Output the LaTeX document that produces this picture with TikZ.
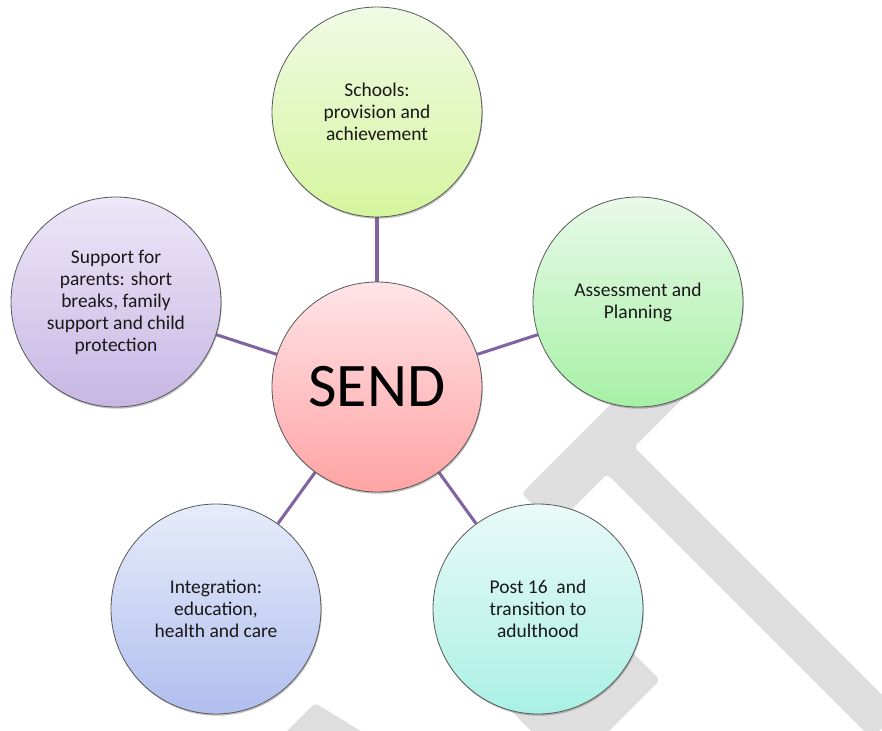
\documentclass[tikz,border=0pt]{standalone}
\usepackage{fontspec}
\setmainfont{Carlito}
\usetikzlibrary{shadows,backgrounds}
\definecolor{wmgray}{RGB}{222,222,222}
\definecolor{linkpurple}{RGB}{128,100,162}
\pgfdeclarelayer{watermark}
\pgfsetlayers{watermark,background,main}
\tikzstyle{topic}=[circle, minimum size=157.5pt, inner sep=0pt, draw=black!65, line width=0.6pt, align=center, text=black!90, font=\fontsize{14.6}{16.5}\selectfont, drop shadow={shadow xshift=0.6pt, shadow yshift=-1.3pt, opacity=0.35, fill=black!70}]
\tikzstyle{link}=[draw=linkpurple, line width=2.3pt]
\tikzstyle{wm}=[fill=wmgray, rounded corners=3pt]

\begin{document}
\begin{tikzpicture}[x=0.75pt, y=-0.75pt]
	\useasboundingbox (0,0) rectangle (882,731);

	\node[topic, top color={rgb,255:red,255;green,228;blue,232}, bottom color={rgb,255:red,255;green,163;blue,163}, font=\fontsize{46.5}{50}\selectfont, text=black](send) at (377,387){SEND};

	\node[topic, top color={rgb,255:red,241;green,250;blue,229}, bottom color={rgb,255:red,213;green,245;blue,158}](schools) at (377,112){Schools:\\provision and\\achievement};
	\node[topic, top color={rgb,255:red,233;green,250;blue,233}, bottom color={rgb,255:red,166;green,240;blue,166}](assess) at (638,302){Assessment and\\Planning};
	\node[topic, top color={rgb,255:red,233;green,250;blue,248}, bottom color={rgb,255:red,170;green,240;blue,228}](post) at (538,609){Post 16~ and\\transition to\\adulthood};
	\node[topic, top color={rgb,255:red,231;green,236;blue,250}, bottom color={rgb,255:red,176;green,190;blue,238}](integr) at (216,609){Integration:\\education,\\health and care};
	\node[topic, top color={rgb,255:red,237;green,231;blue,248}, bottom color={rgb,255:red,199;green,183;blue,228}](parents) at (116,302){Support for\\parents: short\\breaks, family\\support and child\\protection};

	\begin{pgfonlayer}{background}
		\draw[link] (send) -- (schools);
		\draw[link] (send) -- (assess);
		\draw[link] (send) -- (post);
		\draw[link] (send) -- (integr);
		\draw[link] (send) -- (parents);
	\end{pgfonlayer}

	% watermark pieces
	\begin{pgfonlayer}{watermark}
		\begin{scope}
			\clip (0,0) rectangle (882,731);
			\fill[wm] (521.5,493.5) -- (652.5,362.5) -- (685.5,395.5) -- (634,447) -- (898.5,711.5) -- (871.5,738.5) -- (607,474) -- (554.5,526.5) -- cycle;
			\fill[wm] (495,695) -- (585,605) -- (660,680) -- (570,770) -- cycle;
			\fill[wm] (315,703) -- (385,746) -- (272,746) -- cycle;
		\end{scope}
	\end{pgfonlayer}

\end{tikzpicture}
\end{document}
